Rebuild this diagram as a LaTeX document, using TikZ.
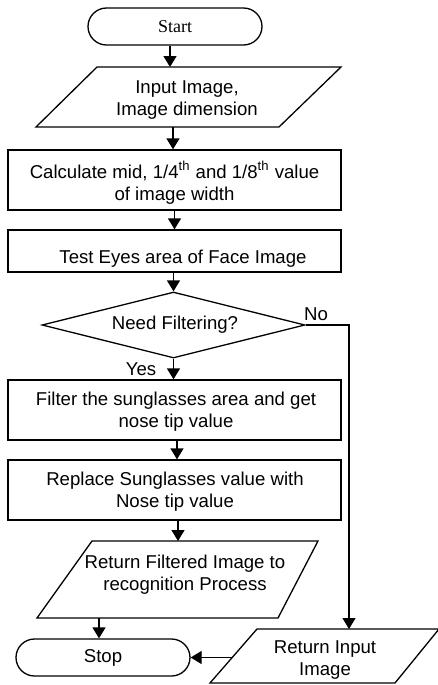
\documentclass[tikz,border=0pt]{standalone}
\usepackage{fontspec}
\setmainfont{Liberation Sans}
\newfontfamily\seriffont{Liberation Serif}
\usetikzlibrary{arrows.meta,shapes.misc,shapes.geometric}
\begin{document}
\begin{tikzpicture}[x=0.5pt,y=-0.5pt,
  every node/.style={font=\fontsize{9.3}{11}\selectfont},
  ln/.style={line width=0.65pt},
  arr/.style={ln,-{Triangle[length=5.5pt,width=6.5pt]}},
  box/.style={draw,ln,rectangle,minimum width=166.5pt,minimum height=30pt,inner sep=0pt},
  term/.style={draw,ln,rounded rectangle,rounded rectangle arc length=180,minimum width=87pt,minimum height=18.5pt,inner sep=0pt},
  txt/.style={align=center,inner sep=0pt}]
\useasboundingbox (0,0) rectangle (438,685);

% Start
\node[term,font=\seriffont\fontsize{9}{11}\selectfont] (start) at (175,26.5) {Start};

% Input parallelogram
\draw[ln] (97,67) -- (341,67) -- (279,127) -- (36,127) -- cycle;
\node[txt] (inp) at (187,100) {Input Image,\\Image dimension};
\coordinate (inpN) at (170,67);
\coordinate (inpS) at (173,127);
\draw[arr] (start.south -| inpN) -- (inpN);

% Calculate
\node[box] (calc) at (174.5,180) {};
\node[txt] (calcT) at (174.5,183) {Calculate mid, 1/4\textsuperscript{th} and 1/8\textsuperscript{th} value\\of image width};
\draw[arr] (inpS) -- (inpS |- calc.north);

% Test
\node[box,minimum height=21pt] (test) at (174.5,251) {};
\node[txt] (testT) at (183,259) {Test Eyes area of Face Image};
\draw[arr] (calc.south) -- (test.north);

% Decision
\node[draw,ln,diamond,minimum width=131.5pt,minimum height=33pt,inner sep=0pt] (dec) at (173.5,325) {};
\node[txt] (decT) at (175,325) {Need Filtering?};
\draw[arr] (dec.north |- test.south) -- (dec.north);
\node[txt] (no) at (316,314) {No};
\node[txt] (yes) at (141,369) {Yes};

% Filter
\node[box] (filter) at (174.5,410) {};
\node[txt] (filterT) at (176,412) {Filter the sunglasses area and get\\nose tip value};
\draw[arr] (dec.south) -- (dec.south |- filter.north);

% Replace
\node[box] (repl) at (174.5,490) {};
\node[txt] (replT) at (175,492) {Replace Sunglasses value with\\Nose tip value};
\coordinate (fr) at (177,440);
\draw[arr] (fr) -- (fr |- repl.north);

% Return filtered parallelogram
\draw[ln] (92,541) -- (318,541) -- (278,618) -- (37,618) -- cycle;
\node[txt] (retf) at (185,575) {Return Filtered Image to\\recognition Process};
\coordinate (retfN) at (178,541);
\coordinate (retfS) at (99,618);
\draw[arr] (retfN |- repl.south) -- (retfN);

% Stop
\node[term] (stop) at (103,657.5) {Stop};
\draw[arr] (retfS) -- (retfS |- stop.north);

% Return input parallelogram
\draw[ln] (257,629) -- (439,629) -- (395,683) -- (210,683) -- cycle;
\node[txt] (reti) at (325,660) {Return Input\\Image};
\coordinate (retiN) at (349,629);
\coordinate (retiW) at (232,657.5);
\draw[arr] (retiW) -- (stop.east);

% No branch
\coordinate (noC) at (349,325);
\draw[arr] (dec.east) -- (noC) -- (retiN);
\end{tikzpicture}
\end{document}
